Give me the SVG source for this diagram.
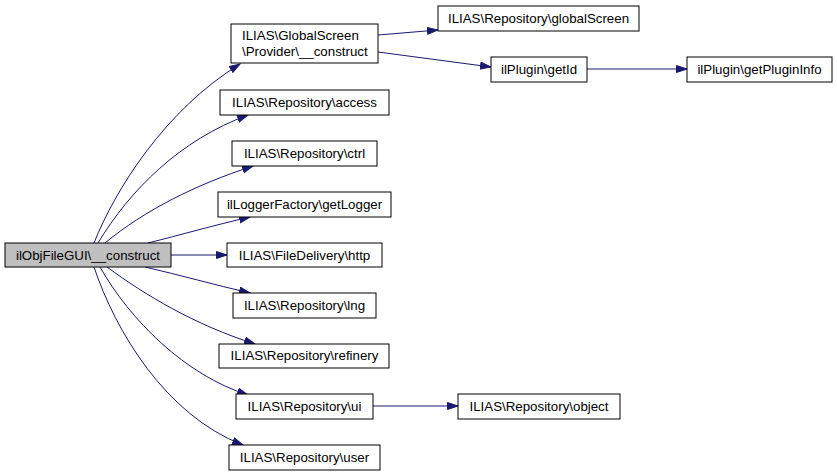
<svg xmlns="http://www.w3.org/2000/svg" width="837" height="476" viewBox="0 0 837 476">
<style>
.n rect{fill:#ffffff;stroke:#000000;stroke-width:1}
.n.m rect{fill:#bfbfbf}
.n text{font-family:"Liberation Sans",Arial,sans-serif;font-size:13.3px;fill:#000000;text-anchor:middle}
.n text.l{text-anchor:start}
.e path{fill:none;stroke:#191970;stroke-width:1;marker-end:url(#ah)}
</style>
<defs>
<marker id="ah" markerUnits="userSpaceOnUse" markerWidth="12" markerHeight="9" refX="11" refY="4" orient="auto">
<path d="M0.5,0.5 L11,4 L0.5,7.5 Z" fill="#191970" stroke="#191970"/>
</marker>
</defs>
<rect width="837" height="476" fill="#ffffff"/>
<g class="e" id="edges">
<path d="M94,243 C115,190 165,110 240,64"/>
<path d="M98,243 C130,190 180,140 248,115"/>
<path d="M105,243 C145,210 195,185 253,166"/>
<path d="M148,243 C180,235 215,225 250,217"/>
<path d="M171,255 L227,255"/>
<path d="M145,267 C180,275 215,285 250,293"/>
<path d="M107,267 C145,295 195,325 255,344"/>
<path d="M100,267 C130,320 185,375 248,395"/>
<path d="M94,267 C115,330 165,415 243,445"/>
<path d="M378,35 L438,30"/>
<path d="M378,52 L491,67"/>
<path d="M587,69 L687,69"/>
<path d="M373,406 L458,406"/>
</g>
<g class="n m" id="main"><rect x="5" y="243" width="166" height="24"/><text x="88" y="260">ilObjFileGUI\__construct</text></g>
<g class="n" id="gs_provider"><rect x="231" y="24" width="147" height="39"/><text class="l" x="242" y="40">ILIAS\GlobalScreen</text><text class="l" x="242" y="56">\Provider\__construct</text></g>
<g class="n" id="access"><rect x="220" y="90" width="169" height="25"/><text x="304.5" y="107">ILIAS\Repository\access</text></g>
<g class="n" id="ctrl"><rect x="232" y="141" width="145" height="25"/><text x="304.5" y="158">ILIAS\Repository\ctrl</text></g>
<g class="n" id="getLogger"><rect x="218" y="192" width="173" height="25"/><text x="304.5" y="209">ilLoggerFactory\getLogger</text></g>
<g class="n" id="http"><rect x="227" y="243" width="155" height="24"/><text x="304.5" y="260">ILIAS\FileDelivery\http</text></g>
<g class="n" id="lng"><rect x="233" y="293" width="143" height="25"/><text x="304.5" y="310">ILIAS\Repository\lng</text></g>
<g class="n" id="refinery"><rect x="219" y="344" width="170" height="24"/><text x="304.5" y="360">ILIAS\Repository\refinery</text></g>
<g class="n" id="ui"><rect x="236" y="394" width="137" height="25"/><text x="304.5" y="411">ILIAS\Repository\ui</text></g>
<g class="n" id="user"><rect x="229" y="445" width="151" height="25"/><text x="304.5" y="462">ILIAS\Repository\user</text></g>
<g class="n" id="globalScreen"><rect x="438" y="6" width="201" height="25"/><text x="538.5" y="23">ILIAS\Repository\globalScreen</text></g>
<g class="n" id="getId"><rect x="491" y="57" width="96" height="25"/><text x="539" y="74">ilPlugin\getId</text></g>
<g class="n" id="getPluginInfo"><rect x="687" y="57" width="145" height="25"/><text x="759.5" y="74">ilPlugin\getPluginInfo</text></g>
<g class="n" id="object"><rect x="458" y="394" width="162" height="25"/><text x="539" y="411">ILIAS\Repository\object</text></g>
</svg>
